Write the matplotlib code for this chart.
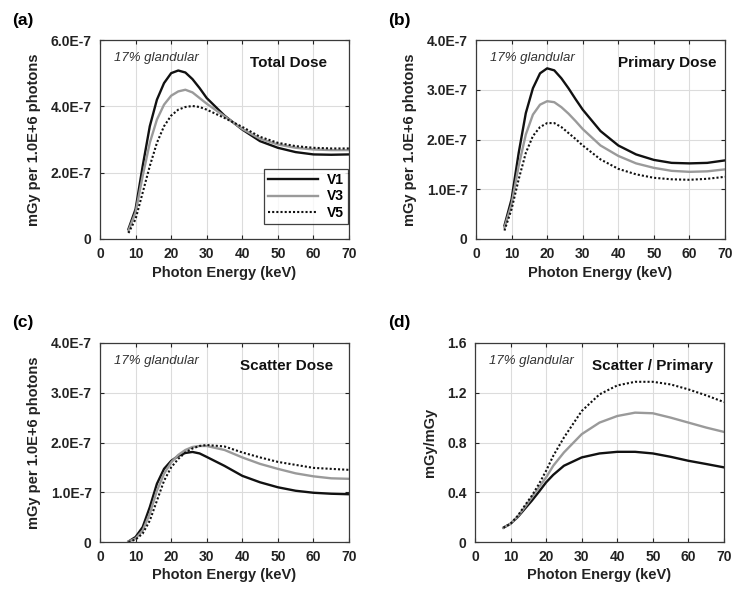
import numpy as np
import matplotlib
matplotlib.use("Agg")
import matplotlib.pyplot as plt

plt.rcParams['font.family'] = ['Liberation Sans', 'DejaVu Sans']

################################################################################
# DATOS  (dosis en unidades de 1e-7 mGy por 1.0E+6 fotones)
#------------------------------------------------------------------------------#

energias = [8, 10, 12, 14, 16, 18, 20, 22, 24, 26, 28, 30, 35, 40, 45, 50, 55, 60, 65, 70]

total_v1 = [0.30, 0.90, 2.20, 3.40, 4.20, 4.70, 5.00, 5.08, 5.02, 4.82, 4.55, 4.25, 3.72, 3.30, 2.95, 2.75, 2.62, 2.55, 2.54, 2.55]
total_v3 = [0.25, 0.80, 1.90, 2.90, 3.60, 4.05, 4.32, 4.45, 4.50, 4.42, 4.25, 4.08, 3.70, 3.32, 3.02, 2.85, 2.75, 2.70, 2.68, 2.68]
total_v5 = [0.18, 0.60, 1.40, 2.20, 2.90, 3.40, 3.72, 3.90, 3.98, 4.01, 3.98, 3.90, 3.65, 3.38, 3.08, 2.90, 2.80, 2.75, 2.73, 2.73]

primario_v1 = [0.27, 0.80, 1.73, 2.53, 3.03, 3.33, 3.43, 3.39, 3.23, 3.03, 2.81, 2.60, 2.17, 1.88, 1.70, 1.59, 1.53, 1.52, 1.53, 1.58]
primario_v3 = [0.23, 0.70, 1.47, 2.10, 2.50, 2.70, 2.77, 2.75, 2.65, 2.52, 2.37, 2.21, 1.88, 1.67, 1.52, 1.43, 1.37, 1.35, 1.36, 1.40]
primario_v5 = [0.17, 0.60, 1.20, 1.73, 2.07, 2.25, 2.33, 2.33, 2.25, 2.13, 2.01, 1.88, 1.60, 1.41, 1.30, 1.23, 1.20, 1.19, 1.21, 1.25]

disperso_v1 = [0.01, 0.10, 0.30, 0.70, 1.17, 1.47, 1.63, 1.73, 1.79, 1.81, 1.78, 1.71, 1.53, 1.33, 1.20, 1.10, 1.03, 0.99, 0.97, 0.96]
disperso_v3 = [0.01, 0.07, 0.23, 0.57, 1.03, 1.37, 1.60, 1.75, 1.85, 1.91, 1.93, 1.93, 1.85, 1.70, 1.57, 1.47, 1.38, 1.32, 1.28, 1.27]
disperso_v5 = [0.00, 0.05, 0.17, 0.43, 0.83, 1.23, 1.50, 1.67, 1.80, 1.88, 1.93, 1.95, 1.92, 1.80, 1.70, 1.61, 1.55, 1.49, 1.47, 1.45]

energias_d = [8, 10, 12, 14, 16, 18, 20, 22, 25, 30, 35, 40, 45, 50, 55, 60, 65, 70]
razon_v1 = [0.115, 0.147, 0.200, 0.267, 0.333, 0.405, 0.480, 0.540, 0.613, 0.680, 0.712, 0.725, 0.725, 0.712, 0.685, 0.653, 0.627, 0.600]
razon_v3 = [0.115, 0.147, 0.205, 0.280, 0.360, 0.440, 0.520, 0.613, 0.720, 0.867, 0.960, 1.013, 1.040, 1.035, 1.000, 0.960, 0.920, 0.885]
razon_v5 = [0.115, 0.147, 0.210, 0.293, 0.373, 0.467, 0.573, 0.693, 0.840, 1.053, 1.187, 1.259, 1.288, 1.288, 1.267, 1.227, 1.179, 1.125]

escala = 1e-7
series = ['V1', 'V3', 'V5']

ticks_a = [0, 2e-7, 4e-7, 6e-7]
etiq_a = ['0', '2.0E-7', '4.0E-7', '6.0E-7']
ticks_bc = [0, 1e-7, 2e-7, 3e-7, 4e-7]
etiq_bc = ['0', '1.0E-7', '2.0E-7', '3.0E-7', '4.0E-7']
ticks_d = [0, 0.4, 0.8, 1.2, 1.6]
etiq_d = ['0', '0.4', '0.8', '1.2', '1.6']
ticks_x = [0, 10, 20, 30, 40, 50, 60, 70]

################################################################################
# FUNCIONES
#------------------------------------------------------------------------------#

estilos = [dict(color='#111111', ls='-', lw=1.7),
           dict(color='#9a9a9a', ls='-', lw=1.7),
           dict(color='#111111', ls=(0, (1, 1)), lw=1.5)]

def panel(ax, x, curvas, factor, yticks, yetiq, ylabel, titulo, xtit):
    for curva, est, nombre in zip(curvas, estilos, series):
        ax.plot(x, np.array(curva) * factor, label=nombre, **est)
    ax.set_xlim(0, 70)
    ax.set_ylim(yticks[0], yticks[-1])
    ax.set_xticks(ticks_x)
    ax.set_yticks(yticks)
    ax.set_yticklabels(yetiq)
    ax.grid(True, color='#dcdcdc', lw=0.8)
    ax.set_axisbelow(True)
    ax.tick_params(direction='in', length=3, width=0.8, colors='#222222',
                   labelsize=10, pad=6, top=True, right=True)
    for lab in ax.get_xticklabels() + ax.get_yticklabels():
        lab.set_fontweight('bold')
    for sp in ax.spines.values():
        sp.set_color('#3a3a3a')
        sp.set_linewidth(0.9)
    ax.set_xlabel('Photon Energy (keV)', fontsize=10.5, fontweight='bold',
                  color='#222222', labelpad=3)
    ax.set_ylabel(ylabel, fontsize=10.5, fontweight='bold', color='#222222',
                  labelpad=7)
    ax.text(0.055, 0.91, '17% glandular', transform=ax.transAxes, fontsize=9.5,
            style='italic', color='#333333', va='center', ha='left')
    ax.text(xtit, 0.885, titulo, transform=ax.transAxes, fontsize=11,
            fontweight='bold', color='#111111', va='center', ha='right')

#------------------------------------------------------------------------------#

fig = plt.figure(figsize=(7.45, 5.95), dpi=100)
w, h = 249 / 745, 199 / 595
ax_a = fig.add_axes([100 / 745, 1 - 239 / 595, w, h])
ax_b = fig.add_axes([476 / 745, 1 - 239 / 595, w, h])
ax_c = fig.add_axes([100 / 745, 1 - 542 / 595, w, h])
ax_d = fig.add_axes([475 / 745, 1 - 542 / 595, w, h])

ylab = 'mGy per 1.0E+6 photons'
panel(ax_a, energias, [total_v1, total_v3, total_v5], escala, ticks_a, etiq_a,
      ylab, 'Total Dose', 0.91)
panel(ax_b, energias, [primario_v1, primario_v3, primario_v5], escala, ticks_bc, etiq_bc,
      ylab, 'Primary Dose', 0.965)
panel(ax_c, energias, [disperso_v1, disperso_v3, disperso_v5], escala, ticks_bc, etiq_bc,
      ylab, 'Scatter Dose', 0.935)
panel(ax_d, energias_d, [razon_v1, razon_v3, razon_v5], 1.0, ticks_d, etiq_d,
      'mGy/mGy', 'Scatter / Primary', 0.955)

leg = ax_a.legend(loc='lower right', bbox_to_anchor=(1.0, 0.07), frameon=True,
                  fancybox=False, edgecolor='#111111', handlelength=3.6,
                  handletextpad=0.6, borderpad=0.3, labelspacing=0.15,
                  borderaxespad=0.1, prop={'weight': 'bold', 'size': 10})
leg.get_frame().set_linewidth(0.9)

for ax, letra in zip([ax_a, ax_b, ax_c, ax_d], ['(a)', '(b)', '(c)', '(d)']):
    pos = ax.get_position()
    x0 = 12 / 745 if pos.x0 < 0.5 else 388 / 745
    y0 = pos.y1 + 20 / 595
    fig.text(x0, y0, letra, fontsize=12.5, fontweight='bold', va='center', ha='left')

fig.savefig('out.png', dpi=100)
